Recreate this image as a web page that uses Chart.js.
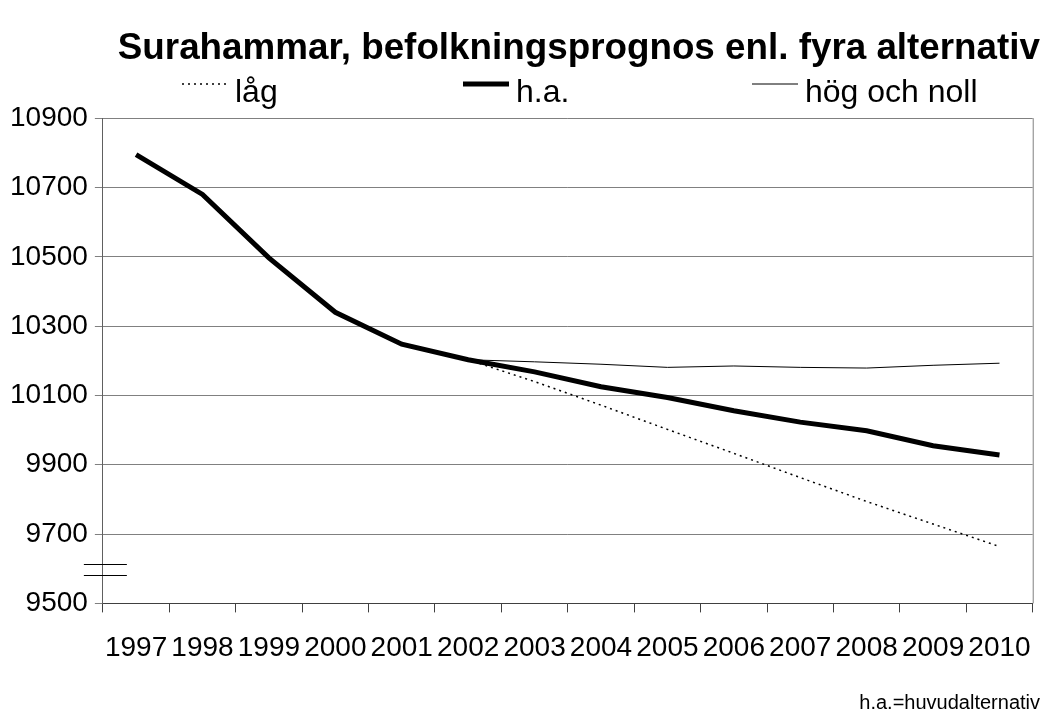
<!DOCTYPE html>
<html>
<head>
<meta charset="utf-8">
<script src="https://cdn.jsdelivr.net/npm/chart.js@4/dist/chart.umd.min.js"></script>
<style>
  body { margin: 0; background: #fff; }
  #wrap { width: 1050px; height: 715px; }
</style>
</head>
<body>
<div id="wrap"><canvas id="myChart"></canvas></div>
<script>
// years on the x axis
let years = ['1997', '1998', '1999', '2000', '2001', '2002', '2003',
             '2004', '2005', '2006', '2007', '2008', '2009', '2010'];

// population
let huvud   = [10795, 10680, 10497, 10340, 10248, 10203, 10168, 10125, 10094, 10056, 10023, 9998, 9955, 9928];
let lag     = [null, null, null, null, null, 10203, 10140, 10072, 10002, 9933, 9863, 9794, 9729, 9664];
let hogNoll = [null, null, null, null, null, 10203, 10197, 10190, 10181, 10185, 10181, 10179, 10187, 10193];

let seriesNames = ['låg', 'h.a.', 'hög och noll'];
let yTicks = [9500, 9700, 9900, 10100, 10300, 10500, 10700, 10900];

const FONT = "'Liberation Sans', Arial, sans-serif";

// legend drawn by hand, the items are spread wide like in the original
const keyPlugin = {
    id: 'seriesKey',
    afterDraw(chart, args, opts) {
        const ctx = chart.ctx;
        ctx.save();
        chart.data.datasets.forEach((ds, i) => {
            const x = opts.xs[i];
            ctx.beginPath();
            ctx.setLineDash(ds.borderDash || []);
            ctx.lineWidth = ds.borderWidth;
            ctx.strokeStyle = ds.borderColor;
            ctx.moveTo(x, opts.lineY);
            ctx.lineTo(x + opts.lineLen, opts.lineY);
            ctx.stroke();
            ctx.setLineDash([]);
            ctx.fillStyle = '#000';
            ctx.font = opts.fontSize + 'px ' + FONT;
            ctx.textBaseline = 'middle';
            ctx.textAlign = 'left';
            ctx.fillText(ds.label, x + opts.lineLen + 7, opts.textY);
        });
        ctx.restore();
    }
};

// right edge of the plot and the axis break marks
const framePlugin = {
    id: 'frame',
    afterDraw(chart) {
        const ctx = chart.ctx;
        const area = chart.chartArea;
        const y = chart.scales.y;
        ctx.save();
        ctx.strokeStyle = '#808080';
        ctx.lineWidth = 1;
        ctx.beginPath();
        ctx.moveTo(area.right + 0.5, area.top);
        ctx.lineTo(area.right + 0.5, area.bottom);
        ctx.stroke();
        ctx.strokeStyle = '#000';
        [9615, 9581].forEach(v => {
            const py = Math.round(y.getPixelForValue(v)) + 0.5;
            ctx.beginPath();
            ctx.moveTo(area.left - 19, py);
            ctx.lineTo(area.left + 24, py);
            ctx.stroke();
        });
        ctx.restore();
    }
};

var ctx = document.getElementById('myChart').getContext('2d');
var myChart = new Chart(ctx, {
    type: 'line',
    data: {
        labels: years,
        datasets: [{
            label: seriesNames[0],
            data: lag,
            borderColor: '#000',
            borderWidth: 1.5,
            borderDash: [2, 4],
            pointRadius: 0,
            order: 1
        }, {
            label: seriesNames[1],
            data: huvud,
            borderColor: '#000',
            borderWidth: 5,
            pointRadius: 0,
            order: 0
        }, {
            label: seriesNames[2],
            data: hogNoll,
            borderColor: '#000',
            borderWidth: 1,
            pointRadius: 0,
            order: 1
        }]
    },
    options: {
        responsive: true,
        maintainAspectRatio: false,
        animation: false,
        layout: {
            padding: { left: 3, right: 10, top: 0, bottom: 0 }
        },
        plugins: {
            title: {
                display: true,
                text: 'Surahammar, befolkningsprognos enl. fyra alternativ',
                align: 'end',
                color: '#000',
                font: { family: FONT, size: 36.8, weight: 'bold' },
                padding: { top: 27, bottom: 47 }
            },
            subtitle: {
                display: true,
                position: 'bottom',
                align: 'end',
                text: 'h.a.=huvudalternativ',
                color: '#000',
                font: { family: FONT, size: 20 },
                padding: { top: 7, bottom: 0 }
            },
            legend: { display: false },
            tooltip: { enabled: false },
            seriesKey: { xs: [182, 463, 752], lineLen: 46, lineY: 84, textY: 93, fontSize: 32 }
        },
        scales: {
            x: {
                offset: true,
                grid: {
                    drawOnChartArea: false,
                    drawTicks: true,
                    tickLength: 9,
                    offset: true,
                    color: '#404040'
                },
                border: { color: '#404040' },
                ticks: {
                    color: '#000',
                    font: { family: FONT, size: 28 },
                    padding: 19,
                    maxRotation: 0,
                    autoSkip: false
                }
            },
            y: {
                min: 9500,
                max: 10900,
                afterBuildTicks: (scale) => {
                    scale.ticks = yTicks.map(v => ({ value: v }));
                },
                grid: {
                    color: '#808080',
                    tickLength: 8
                },
                border: { color: '#606060' },
                ticks: {
                    color: '#000',
                    font: { family: FONT, size: 28 },
                    padding: 7,
                    callback: (v) => String(v)
                }
            }
        }
    },
    plugins: [keyPlugin, framePlugin]
});
</script>
</body>
</html>
